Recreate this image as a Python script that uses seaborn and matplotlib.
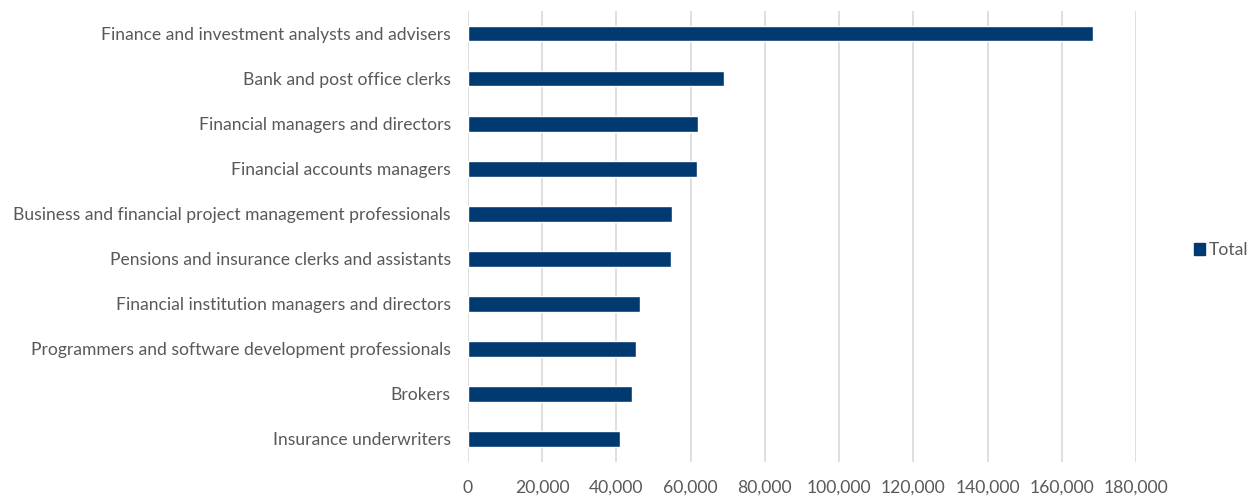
import matplotlib
matplotlib.use("Agg")
import matplotlib.pyplot as plt
import matplotlib.patches as mpatches
from matplotlib.ticker import FuncFormatter, MultipleLocator
import seaborn as sns
import pandas as pd

occupations = [
    "Finance and investment analysts and advisers",
    "Bank and post office clerks",
    "Financial managers and directors",
    "Financial accounts managers",
    "Business and financial project management professionals",
    "Pensions and insurance clerks and assistants",
    "Financial institution managers and directors",
    "Programmers and software development professionals",
    "Brokers",
    "Insurance underwriters",
]
totals = [168300, 69100, 62000, 61700, 55000, 54800, 46300, 45200, 44300, 41000]

df = pd.DataFrame({"occupation": occupations, "total": totals})

sns.set_theme(style="white")
plt.rcParams["font.family"] = ["Lato", "DejaVu Sans"]

text_color = "#595959"
bar_color = "#003A70"
grid_color = "#D9D9D9"
fs = 12.6

fig = plt.figure(figsize=(12.51, 4.97), dpi=100)
ax = fig.add_axes([0.3741, 0.0714, 0.534, 0.9064])

sns.barplot(data=df, x="total", y="occupation", orient="h",
            color=bar_color, width=0.35, saturation=1, ax=ax, zorder=3)

ax.set_xlim(0, 180000)
ax.xaxis.set_major_locator(MultipleLocator(20000))
ax.xaxis.set_major_formatter(FuncFormatter(lambda v, p: f"{int(v):,}"))
ax.grid(axis="x", color=grid_color, linewidth=1.2, zorder=0)
ax.grid(axis="y", visible=False)
for s in ax.spines.values():
    s.set_visible(False)
ax.set_xlabel("")
ax.set_ylabel("")
ax.tick_params(axis="both", length=0, colors=text_color, labelsize=fs)
ax.tick_params(axis="x", pad=13)
ax.tick_params(axis="y", pad=12.5)

handle = mpatches.Patch(color=bar_color, label="Total")
fig.legend(handles=[handle], loc="center left", bbox_to_anchor=(1194 / 1251, 1 - 250 / 497),
           frameon=False, fontsize=fs, labelcolor=text_color, borderaxespad=0,
           handlelength=0.65, handleheight=0.65, handletextpad=0.2, borderpad=0)

fig.savefig("out.png", dpi=100)
